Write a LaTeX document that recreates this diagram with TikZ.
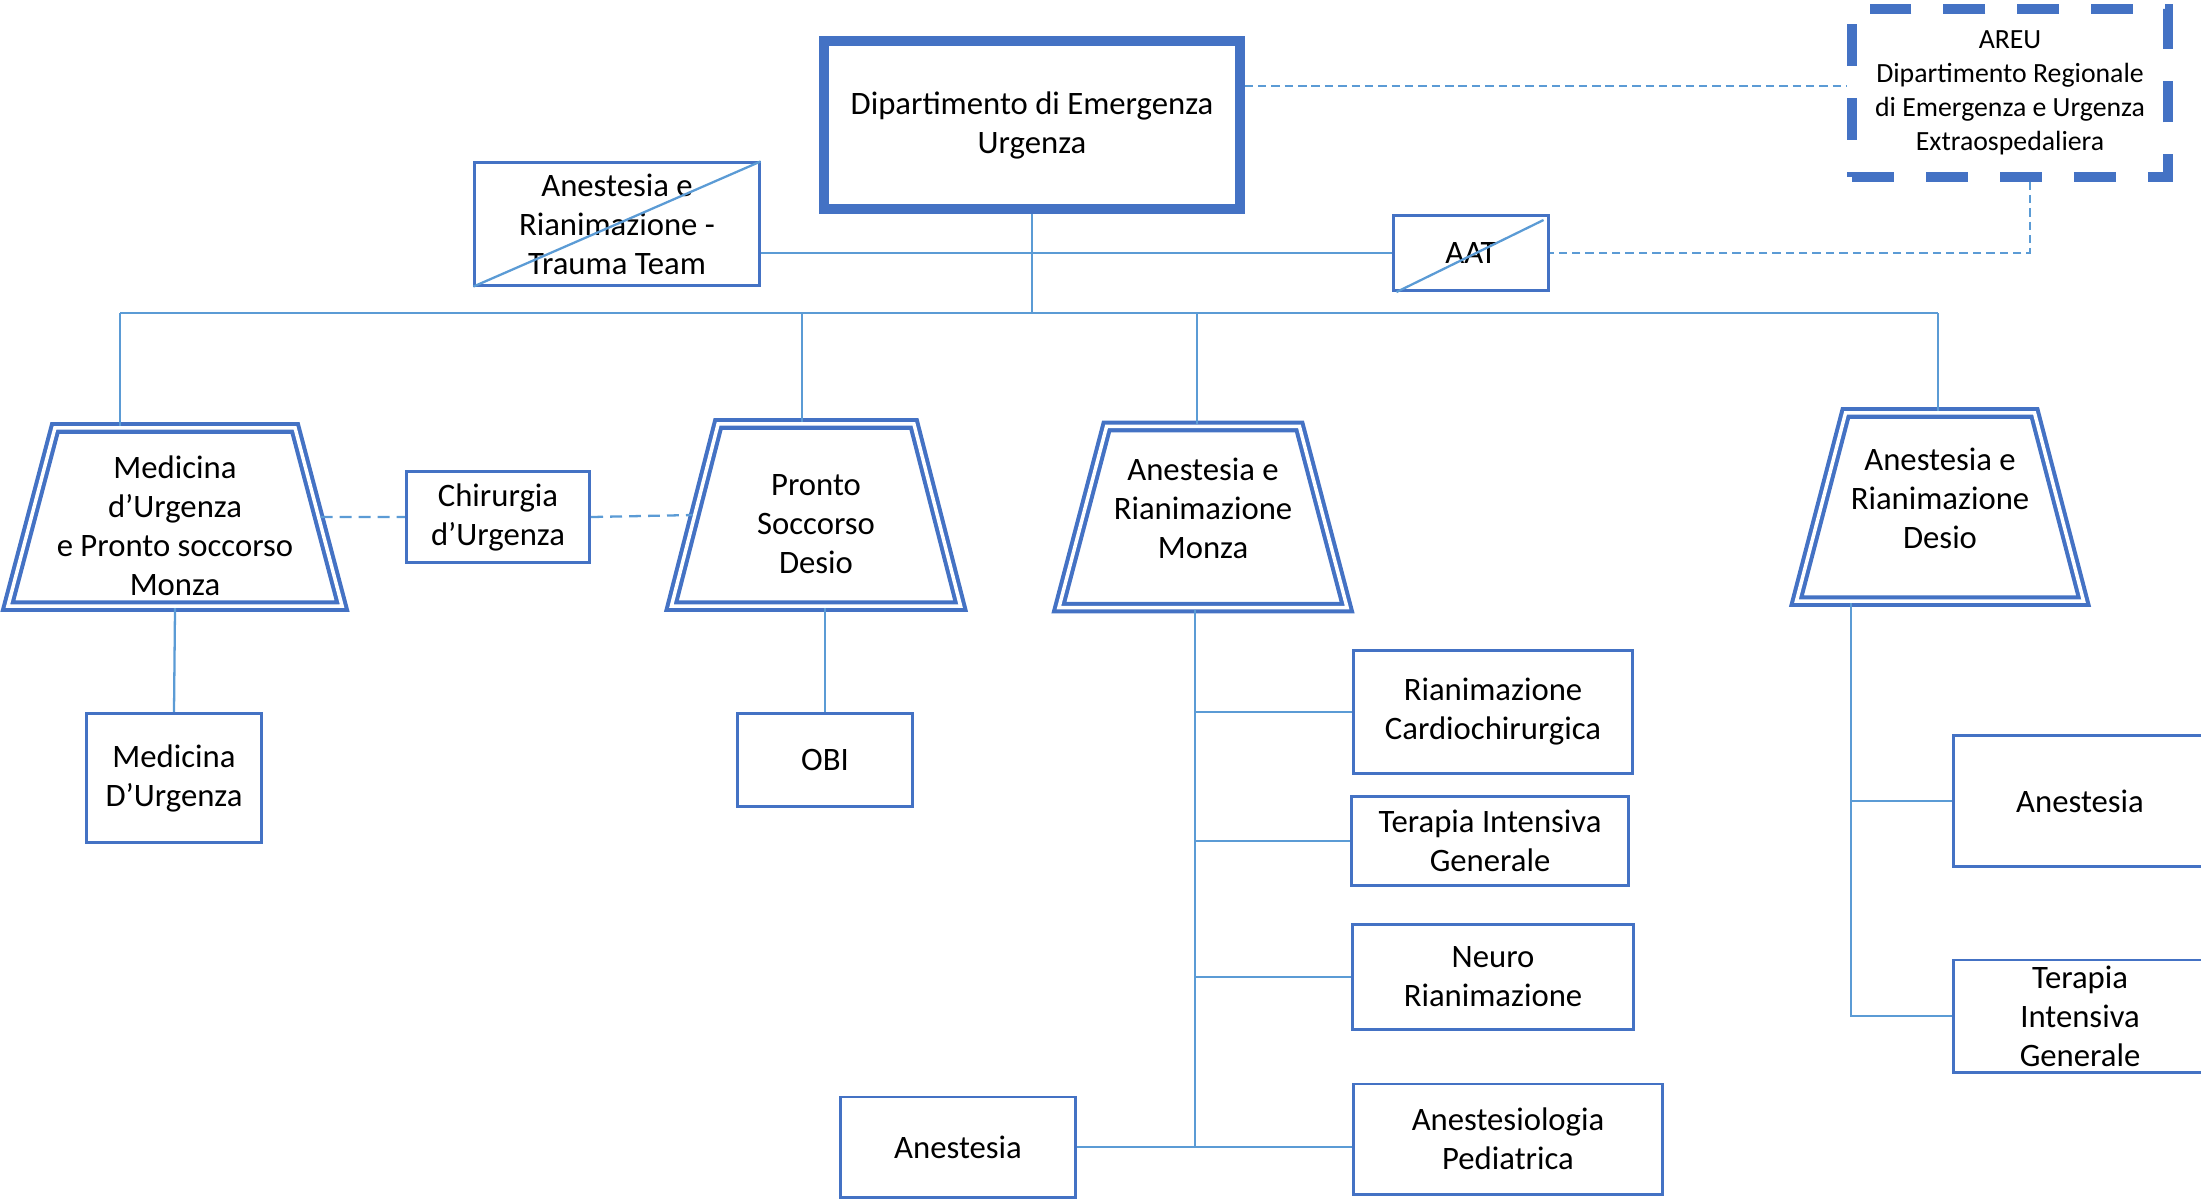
\documentclass[tikz,border=0pt]{standalone}
\usepackage{fontspec}
\setmainfont{Carlito}
\usepackage{tikz}
\usetikzlibrary{shapes.geometric}
\definecolor{boxblue}{RGB}{68,114,196}
\definecolor{linkblue}{RGB}{91,155,213}
\newcommand{\lowtxt}[1]{\rule{0pt}{#1}}
\newcommand{\hightxt}{\rule[-5.1pt]{0pt}{5.1pt}}

\tikzset{
  unit/.style={draw=boxblue, line width=0.85pt, align=center, inner sep=0pt,
    font=\fontsize{9.3}{11.1}\selectfont},
  trap/.style={trapezium, trapezium angle=#1, trapezium stretches body=true,
    draw=boxblue, double=white, double distance=1pt, line width=1.15pt,
    align=center, inner sep=0pt, font=\fontsize{9.3}{11.1}\selectfont},
  link/.style={draw=linkblue, line width=0.65pt},
  dashlink/.style={link, dash pattern=on 3.4pt off 2pt},
  dotlink/.style={link, dash pattern=on 2.4pt off 1.4pt}
}

\begin{document}
\begin{tikzpicture}[x=0.01cm, y=-0.01cm]
\useasboundingbox (0,0) rectangle (2201,1202);

\node[unit, line width=2.85pt, minimum width=4.15cm, minimum height=1.68cm] (dea) at (1032,125) {Dipartimento di Emergenza\\Urgenza};
\node[unit, line width=2.85pt, dash pattern=on 11.9pt off 9.1pt, font=\fontsize{7.9}{9.7}\selectfont,
  minimum width=3.15cm, minimum height=1.67cm] (areu) at (2010,93) {AREU\\Dipartimento Regionale\\di Emergenza e Urgenza\\Extraospedaliera};
\node[unit, minimum width=2.84cm, minimum height=1.22cm] (trauma) at (617,224) {Anestesia e\\Rianimazione -\\Trauma Team};
\node[unit, minimum width=1.54cm, minimum height=0.75cm] (aat) at (1471,253) {AAT};
\draw[link] (trauma.south west) -- (trauma.north east);
\draw[link] ([xshift=0.04cm]aat.south west) -- ([xshift=-0.06cm,yshift=-0.06cm]aat.north east);

\node[trap=73.4, minimum width=3.34cm, minimum height=1.78cm] (medps) at (175,517) {\lowtxt{11.5pt}Medicina\\d’Urgenza\\e Pronto soccorso\\Monza};
\node[trap=68.3, minimum width=2.89cm, minimum height=1.82cm] (psdesio) at (816,515) {\lowtxt{11.1pt}Pronto\\Soccorso\\Desio};
\node[trap=68.1, minimum width=2.88cm, minimum height=1.81cm] (armonza) at (1203,517) {Anestesia e\\Rianimazione\\Monza\hightxt};
\node[trap=67.5, minimum width=2.87cm, minimum height=1.88cm] (ardesio) at (1940,507) {Anestesia e\\Rianimazione\\Desio\hightxt};

\node[unit, minimum width=1.83cm, minimum height=0.91cm] (chir) at (498,517) {Chirurgia\\d’Urgenza};
\node[unit, minimum width=1.74cm, minimum height=1.29cm] (medu) at (174,778) {Medicina\\D’Urgenza};
\node[unit, minimum width=1.75cm, minimum height=0.93cm] (obi) at (825,760) {OBI};
\node[unit, minimum width=2.78cm, minimum height=1.23cm] (cardio) at (1493,712) {Rianimazione\\Cardiochirurgica};
\node[unit, minimum width=2.77cm, minimum height=0.89cm] (tig) at (1490,841) {Terapia Intensiva\\Generale};
\node[unit, minimum width=2.81cm, minimum height=1.05cm] (neuro) at (1493,977) {Neuro\\Rianimazione};
\node[unit, minimum width=3.08cm, minimum height=1.10cm] (pedi) at (1508,1139) {Anestesiologia\\Pediatrica};
\node[unit, minimum width=2.35cm, minimum height=1.00cm] (anem) at (958,1147) {Anestesia};
\node[unit, minimum width=2.52cm, minimum height=1.30cm] (aned) at (2080,801) {Anestesia};
\node[unit, minimum width=2.52cm, minimum height=1.12cm] (tigd) at (2080,1016) {Terapia\\Intensiva\\Generale};

% bus
\coordinate (busL) at (120,313);
\coordinate (busR) at (1938,313);
\draw[link] (busL) -- (busR);
\draw[link] (dea.south) -- (dea.south |- busL);
\draw[link] (busL) -- (busL |- medps.north);
\draw[link] ([xshift=-0.14cm]psdesio.north) -- ([xshift=-0.14cm]psdesio.north |- busL);
\draw[link] ([xshift=-0.06cm]armonza.north) -- ([xshift=-0.06cm]armonza.north |- busL);
\draw[link] (busR) -- (busR |- ardesio.north);
\draw[link] (trauma.east |- aat.west) -- (aat.west);
\draw[dotlink] ([yshift=0.39cm]dea.east) -- ([yshift=0.39cm]dea.east -| areu.west);
\draw[dotlink] ([xshift=0.2cm]areu.south) |- (aat.east);

\draw[dashlink] (medps.east) -- (chir.west);
\draw[dashlink] (chir.east) -- (psdesio.west);
\draw[link] (medps.south) -- (medu.north);
\draw[link] (psdesio.south -| obi.north) -- (obi.north);

% Monza
\coordinate (dM) at ([xshift=-0.08cm]armonza.south);
\coordinate (jM) at (dM |- anem.east);
\draw[link] (dM) -- (jM);
\draw[link] (anem.east) -- (jM) -- (jM -| pedi.west);
\foreach \n in {cardio,tig,neuro}
  \draw[link] (dM |- \n.west) -- (\n.west);

% Desio
\coordinate (jD) at ([xshift=-0.89cm]ardesio.south);
\draw[link] (jD) |- (tigd.west);
\draw[link] (jD |- aned.west) -- (aned.west);
\end{tikzpicture}
\end{document}
